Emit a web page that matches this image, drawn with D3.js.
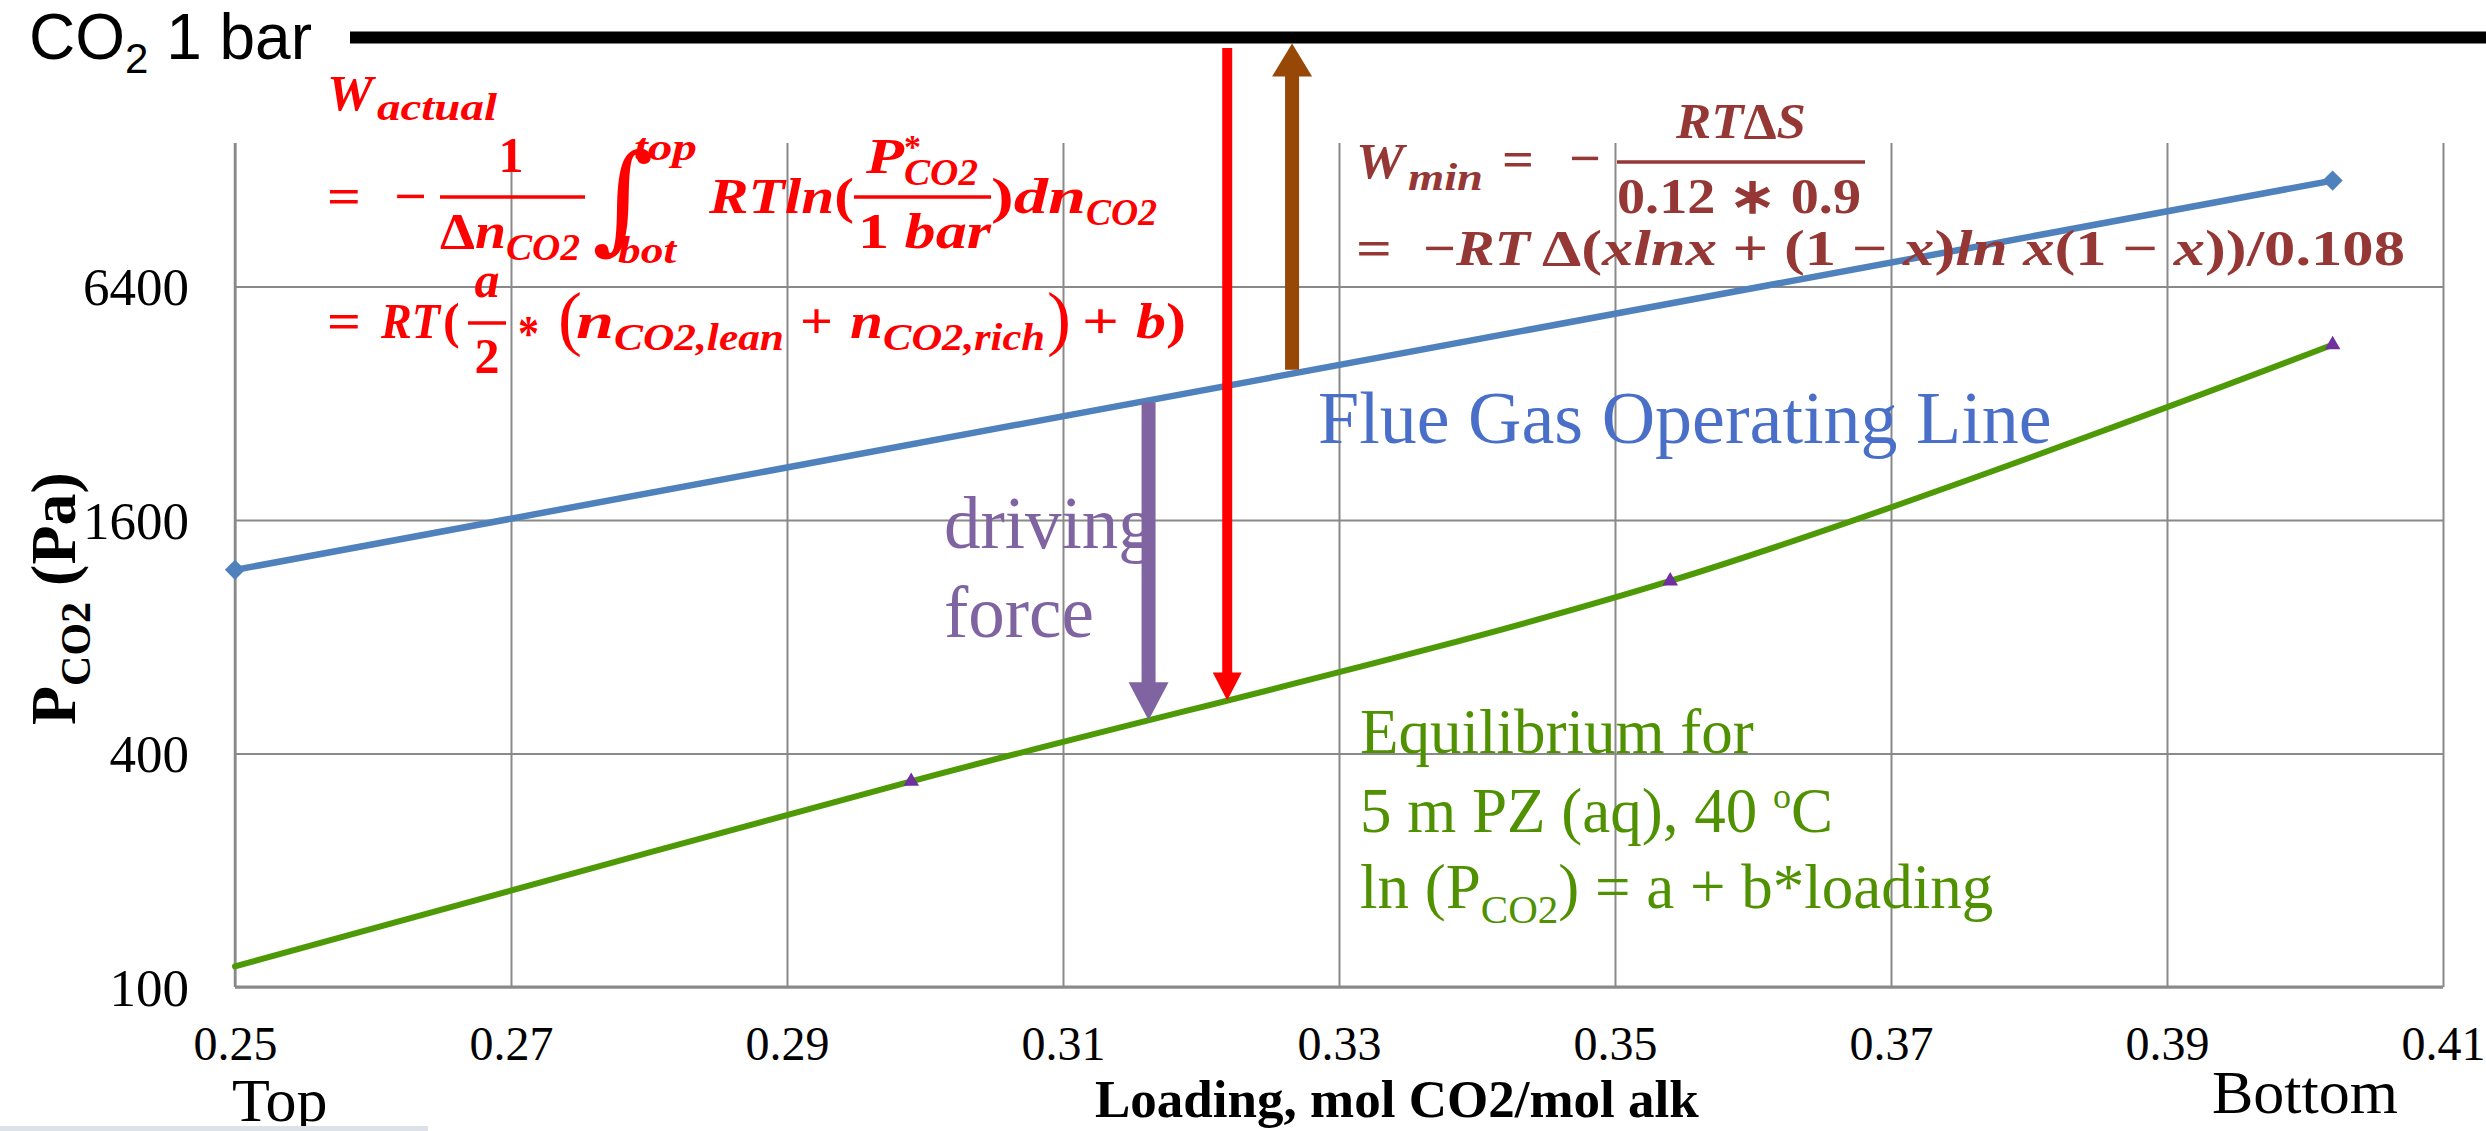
<!DOCTYPE html>
<html>
<head>
<meta charset="utf-8">
<script src="https://cdn.jsdelivr.net/npm/d3@7"></script>
<style>
  html, body { margin: 0; padding: 0; background: #fff; overflow: hidden; }
  svg { display: block; }
</style>
</head>
<body>
<svg id="chart" width="2486" height="1131"></svg>
<script>
// ---- data ---------------------------------------------------------------
// Loading axis ticks (mol CO2 / mol alkalinity)
const xTicks = [0.25, 0.27, 0.29, 0.31, 0.33, 0.35, 0.37, 0.39, 0.41];
// CO2 partial pressure ticks, Pa (log axis, base 4)
const yTicks = [100, 400, 1600, 6400];

// Flue gas operating line (top -> bottom of absorber)
const opLoading = [0.25, 0.402];
const opPco2 = [1190, 12000];

// Equilibrium curve, 5 m PZ (aq) at 40 C
const eqLoading = [0.25, 0.299, 0.354, 0.402];
const eqPco2 = [113, 339, 1114, 4530];
const eqMarked = [false, true, true, true];

// Loadings where the annotation arrows stand
const drivingForceLoading = 0.3162;
const wActualLoading = 0.3219;
const wMinLoading = 0.3266;

// ---- layout ---------------------------------------------------------------
const W = 2486, H = 1131;
const plot = { left: 235, right: 2443, top: 143, bottom: 987 };
const barY = 37.5, barThick = 12, barX0 = 350;   // "CO2 1 bar" reference line
const serif = "'Liberation Serif','Times New Roman',serif";
const sans = "'Liberation Sans',Arial,sans-serif";
const gridColor = "#898989";
const blue = "#4F81BD", green = "#4E9A06", purpleMark = "#7030A0";
const purple = "#8064A2", red = "#FF0000", brown = "#974706", brownText = "#953735";

const svg = d3.select("#chart");

const x = d3.scaleLinear().domain([0.25, 0.41]).range([plot.left, plot.right]);
const y = d3.scaleLog().domain([100, 6400]).range([plot.bottom, 286.5]);

// ---- grid and axes --------------------------------------------------------
const gx = svg.append("g")
  .attr("transform", `translate(0,${plot.bottom})`)
  .call(d3.axisBottom(x).tickValues(xTicks).tickFormat(d3.format(".2f"))
    .tickSizeInner(-(plot.bottom - plot.top)).tickSizeOuter(0).tickPadding(0));
gx.select(".domain").remove();
gx.selectAll(".tick line").attr("stroke", gridColor).attr("stroke-width", 2);
gx.selectAll(".tick text")
  .attr("font-family", serif).attr("font-size", 48).attr("fill", "#000")
  .attr("dy", null).attr("y", 73);

const gy = svg.append("g")
  .attr("transform", `translate(${plot.left},0)`)
  .call(d3.axisLeft(y).tickValues(yTicks).tickFormat(d3.format("d"))
    .tickSizeInner(-(plot.right - plot.left)).tickSizeOuter(0).tickPadding(46));
gy.select(".domain").remove();
gy.selectAll(".tick line").attr("stroke", gridColor).attr("stroke-width", 2);
gy.selectAll(".tick text")
  .attr("font-family", serif).attr("font-size", 53).attr("fill", "#000")
  .attr("dy", "0.34em");

svg.append("line")
  .attr("x1", plot.left).attr("x2", plot.left)
  .attr("y1", plot.top).attr("y2", plot.bottom)
  .attr("stroke", gridColor).attr("stroke-width", 2.5);
svg.append("line")
  .attr("x1", plot.left).attr("x2", plot.right)
  .attr("y1", plot.bottom).attr("y2", plot.bottom)
  .attr("stroke", gridColor).attr("stroke-width", 3);

// ---- series ---------------------------------------------------------------
const opPts = opLoading.map((l, i) => [l, opPco2[i]]);
const eqPts = eqLoading.map((l, i) => [l, eqPco2[i]]);

const straight = d3.line().x(d => x(d[0])).y(d => y(d[1]));
const smooth = d3.line().x(d => x(d[0])).y(d => y(d[1])).curve(d3.curveCardinal.tension(0));

const opPath = svg.append("path").datum(opPts)
  .attr("d", straight).attr("fill", "none")
  .attr("stroke", blue).attr("stroke-width", 6.5).attr("stroke-linecap", "round");

const eqPath = svg.append("path").datum(eqPts)
  .attr("d", smooth).attr("fill", "none")
  .attr("stroke", green).attr("stroke-width", 6).attr("stroke-linecap", "round");

svg.append("g").selectAll("path").data(opPts).join("path")
  .attr("d", d3.symbol(d3.symbolSquare, 205)())
  .attr("transform", d => `translate(${x(d[0])},${y(d[1])}) rotate(45)`)
  .attr("fill", blue);

svg.append("g").selectAll("path").data(eqPts.filter((d, i) => eqMarked[i])).join("path")
  .attr("d", d3.symbol(d3.symbolTriangle, 105)())
  .attr("transform", d => `translate(${x(d[0])},${y(d[1])})`)
  .attr("fill", purpleMark);

// ---- reference line for pure CO2 at 1 bar --------------------------------
svg.append("line")
  .attr("x1", barX0).attr("x2", W).attr("y1", barY).attr("y2", barY)
  .attr("stroke", "#000").attr("stroke-width", barThick);

const co2Label = svg.append("text")
  .attr("x", 29).attr("y", 59)
  .attr("font-family", sans).attr("font-size", 64).attr("fill", "#000");
co2Label.append("tspan").text("CO");
co2Label.append("tspan").attr("font-size", 42).attr("dy", 14).text("2");
co2Label.append("tspan").attr("dy", -14).text(" 1 bar");

// ---- arrows -------------------------------------------------------------
function yOnPath(node, px) {
  const L = node.getTotalLength();
  let lo = 0, hi = L;
  for (let i = 0; i < 40; i++) {
    const mid = (lo + hi) / 2;
    if (node.getPointAtLength(mid).x < px) lo = mid; else hi = mid;
  }
  return node.getPointAtLength((lo + hi) / 2).y;
}
function arrowPath(cx, yTail, yTip, shaft, headW, headL) {
  const dir = yTip > yTail ? 1 : -1;
  const yBase = yTip - dir * headL;
  return `M${cx - shaft / 2},${yTail} L${cx - shaft / 2},${yBase} L${cx - headW / 2},${yBase}` +
         ` L${cx},${yTip} L${cx + headW / 2},${yBase} L${cx + shaft / 2},${yBase} L${cx + shaft / 2},${yTail} Z`;
}
const opNode = opPath.node(), eqNode = eqPath.node();
const barBottom = barY + barThick / 2;

const xDf = x(drivingForceLoading);
svg.append("path")
  .attr("d", arrowPath(xDf, yOnPath(opNode, xDf) + 2, yOnPath(eqNode, xDf), 14, 40, 38))
  .attr("fill", purple);

const xWa = x(wActualLoading);
svg.append("path")
  .attr("d", arrowPath(xWa, barBottom + 4.5, yOnPath(eqNode, xWa), 10, 29, 28))
  .attr("fill", red);

const xWm = x(wMinLoading);
svg.append("path")
  .attr("d", arrowPath(xWm, yOnPath(opNode, xWm) - 4, barBottom, 14, 40, 33))
  .attr("fill", brown);

// ---- formula text -------------------------------------------------------
// each piece: runs of [text, style], baseline position, size, optional fitted width
function formula(color, pieces, bars) {
  const g = svg.append("g").attr("fill", color).attr("font-family", serif);
  pieces.forEach(p => {
    const t = g.append("text")
      .attr("x", p.x).attr("y", p.y).attr("font-size", p.f)
      .attr("font-weight", p.light ? "normal" : "bold")
      .attr("text-anchor", p.anchor || "start");
    p.s.forEach(([str, st]) => t.append("tspan")
      .attr("font-style", st === "i" ? "italic" : "normal").text(str));
    if (p.w) t.attr("textLength", p.w).attr("lengthAdjust", "spacingAndGlyphs");
  });
  bars.forEach(([x0, x1, yb, sw]) => g.append("line")
    .attr("x1", x0).attr("x2", x1).attr("y1", yb).attr("y2", yb)
    .attr("stroke", color).attr("stroke-width", sw));
  return g;
}

// actual work of absorption
const wActual = formula(red, [
  { s: [["W", "i"]], x: 327, y: 110, f: 50, w: 46 },
  { s: [["actual", "i"]], x: 377, y: 120, f: 38, w: 120 },
  { s: [["=", ""]], x: 327, y: 213, f: 50, w: 34 },
  { s: [["\u2212", ""]], x: 394, y: 213, f: 50, w: 33 },
  { s: [["1", ""]], x: 511, y: 172, f: 50, anchor: "middle" },
  { s: [["\u0394", ""], ["n", "i"]], x: 440, y: 248, f: 50, w: 66 },
  { s: [["CO2", "i"]], x: 506, y: 260, f: 38, w: 74 },
  { s: [["top", "i"]], x: 634, y: 160, f: 38, w: 63 },
  { s: [["bot", "i"]], x: 618, y: 263, f: 38, w: 58 },
  { s: [["RTln", "i"], ["(", ""]], x: 709, y: 213, f: 50, w: 145 },
  { s: [["P", "i"]], x: 866, y: 173, f: 50, w: 38 },
  { s: [["*", ""]], x: 904, y: 158, f: 34 },
  { s: [["CO2", "i"]], x: 904, y: 185, f: 38, w: 74 },
  { s: [["1 ", ""], ["bar", "i"]], x: 858, y: 248, f: 50, w: 133 },
  { s: [[")", ""], ["dn", "i"]], x: 991, y: 213, f: 50, w: 95 },
  { s: [["CO2", "i"]], x: 1086, y: 225, f: 38, w: 71 },
  { s: [["=", ""]], x: 327, y: 338, f: 50, w: 34 },
  { s: [["RT", "i"]], x: 381, y: 338, f: 50, w: 59 },
  { s: [["(", ""]], x: 443, y: 338, f: 50 },
  { s: [["a", "i"]], x: 487, y: 297, f: 50, anchor: "middle" },
  { s: [["2", ""]], x: 487, y: 373, f: 50, anchor: "middle" },
  { s: [["*", ""]], x: 518, y: 350, f: 50, w: 21 },
  { s: [["(", ""]], x: 558, y: 342, f: 72, light: true },
  { s: [["n", "i"]], x: 576, y: 338, f: 50, w: 38 },
  { s: [["CO2,lean", "i"]], x: 614, y: 350, f: 38, w: 170 },
  { s: [["+", ""]], x: 800, y: 338, f: 50, w: 33 },
  { s: [["n", "i"]], x: 850, y: 338, f: 50, w: 33 },
  { s: [["CO2,rich", "i"]], x: 883, y: 350, f: 38, w: 162 },
  { s: [[")", ""]], x: 1047, y: 342, f: 72, light: true },
  { s: [["+", ""]], x: 1082, y: 338, f: 50, w: 37 },
  { s: [["b", "i"], [")", ""]], x: 1136, y: 338, f: 50, w: 50 }
], [[440, 585, 197, 3.5], [854, 991, 197, 3.5], [468, 506, 323, 3.5]]);

wActual.append("text")
  .attr("x", 592).attr("y", 238)
  .attr("font-family", "'DejaVu Serif',serif").attr("font-size", 118)
  .attr("font-style", "italic").text("\u222B");

// minimum work of separation
formula(brownText, [
  { s: [["RT", "i"], ["\u0394", ""], ["S", "i"]], x: 1676, y: 138, f: 50, w: 130 },
  { s: [["W", "i"]], x: 1356, y: 178, f: 50, w: 48 },
  { s: [["min", "i"]], x: 1408, y: 190, f: 38, w: 75 },
  { s: [["=", ""]], x: 1502, y: 176, f: 50, w: 32 },
  { s: [["\u2212", ""]], x: 1569, y: 175, f: 50, w: 32 },
  { s: [["0.12 \u2217 0.9", ""]], x: 1617, y: 213, f: 50, w: 244 },
  { s: [["=", ""]], x: 1356, y: 265, f: 50, w: 36 },
  { s: [["\u2212", ""], ["RT", "i"]], x: 1423, y: 265, f: 50, w: 107 },
  { s: [["\u0394(", ""], ["xlnx", "i"], [" + (1 \u2212 ", ""], ["x", "i"], [")", ""], ["ln x", "i"],
        ["(1 \u2212 ", ""], ["x", "i"], ["))/0.108", ""]], x: 1542, y: 265, f: 50, w: 863 }
], [[1617, 1865, 162, 3.5]]);

// ---- labels -------------------------------------------------------------
svg.append("text")
  .attr("x", 1318).attr("y", 443)
  .attr("font-family", serif).attr("font-size", 74).attr("fill", "#4A6FC8")
  .text("Flue Gas Operating Line");

const df = svg.append("text")
  .attr("font-family", serif).attr("font-size", 73).attr("fill", purple);
df.append("tspan").attr("x", 944).attr("y", 548).text("driving");
df.append("tspan").attr("x", 944).attr("y", 637).text("force");

const eqLabel = svg.append("g")
  .attr("font-family", serif).attr("font-size", 63).attr("fill", "#4F9100");
eqLabel.append("text").attr("x", 1360).attr("y", 753).text("Equilibrium for");
const eq2 = eqLabel.append("text").attr("x", 1360).attr("y", 832);
eq2.append("tspan").text("5 m PZ (aq), 40 ");
eq2.append("tspan").attr("font-size", 36).attr("dy", -24).text("o");
eq2.append("tspan").attr("dy", 24).text("C");
const eq3 = eqLabel.append("text").attr("x", 1360).attr("y", 908);
eq3.append("tspan").text("ln (P");
eq3.append("tspan").attr("font-size", 41).attr("dy", 15).text("CO2");
eq3.append("tspan").attr("dy", -15).text(") = a + b*loading");

// axis titles
const yTitle = svg.append("text")
  .attr("transform", "translate(75,725) rotate(-90)")
  .attr("font-family", serif).attr("font-size", 64).attr("font-weight", "bold").attr("fill", "#000");
yTitle.append("tspan").text("P");
yTitle.append("tspan").attr("font-size", 42).attr("dy", 15).text("CO2");
yTitle.append("tspan").attr("dy", -15).text(" (Pa)");

svg.append("text")
  .attr("x", 1095).attr("y", 1117)
  .attr("font-family", serif).attr("font-size", 53).attr("font-weight", "bold").attr("fill", "#000")
  .text("Loading, mol CO2/mol alk");

svg.append("text")
  .attr("x", 232).attr("y", 1121)
  .attr("font-family", serif).attr("font-size", 62).attr("fill", "#000")
  .text("Top");
svg.append("text")
  .attr("x", 2212).attr("y", 1113)
  .attr("font-family", serif).attr("font-size", 62).attr("fill", "#000")
  .text("Bottom");

svg.append("rect")
  .attr("x", 0).attr("y", 1126).attr("width", 428).attr("height", 5)
  .attr("fill", "#DDE2E8");
</script>
</body>
</html>
